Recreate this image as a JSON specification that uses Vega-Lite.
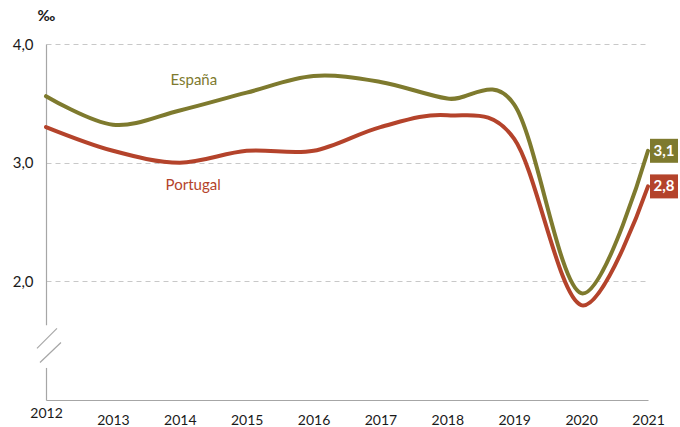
{
  "$schema": "https://vega.github.io/schema/vega-lite/v6.json",
  "width": 602,
  "height": 356,
  "autosize": "none",
  "padding": {"left": 46, "top": 44, "right": 32, "bottom": 27},
  "background": "white",
  "config": {
    "view": {"stroke": null},
    "font": "Lato",
    "locale": {"number": {"decimal": ",", "thousands": ".", "grouping": [3], "currency": ["", " €"]}}
  },
  "datasets": {
    "series": [
      {"year": 2012, "serie": "España", "value": 3.56},
      {"year": 2013, "serie": "España", "value": 3.32},
      {"year": 2014, "serie": "España", "value": 3.44},
      {"year": 2015, "serie": "España", "value": 3.59},
      {"year": 2016, "serie": "España", "value": 3.73},
      {"year": 2017, "serie": "España", "value": 3.68},
      {"year": 2018, "serie": "España", "value": 3.54},
      {"year": 2019, "serie": "España", "value": 3.49},
      {"year": 2020, "serie": "España", "value": 1.9},
      {"year": 2021, "serie": "España", "value": 3.1},
      {"year": 2012, "serie": "Portugal", "value": 3.3},
      {"year": 2013, "serie": "Portugal", "value": 3.1},
      {"year": 2014, "serie": "Portugal", "value": 3.0},
      {"year": 2015, "serie": "Portugal", "value": 3.1},
      {"year": 2016, "serie": "Portugal", "value": 3.1},
      {"year": 2017, "serie": "Portugal", "value": 3.3},
      {"year": 2018, "serie": "Portugal", "value": 3.4},
      {"year": 2019, "serie": "Portugal", "value": 3.2},
      {"year": 2020, "serie": "Portugal", "value": 1.8},
      {"year": 2021, "serie": "Portugal", "value": 2.8}
    ],
    "names": [
      {"serie": "España", "year": 2014.21, "value": 3.7},
      {"serie": "Portugal", "year": 2014.2, "value": 2.81}
    ],
    "gap": [
      {"year": 2012, "from": 1.27, "to": 1.63}
    ],
    "slashes": [
      {"x1": 2011.865, "x2": 2012.164, "y1": 1.435, "y2": 1.603},
      {"x1": 2011.91, "x2": 2012.224, "y1": 1.316, "y2": 1.485}
    ]
  },
  "layer": [
    {
      "data": {"name": "series"},
      "mark": {"type": "line", "interpolate": "cardinal", "strokeWidth": 4, "strokeCap": "round"},
      "encoding": {
        "x": {
          "field": "year", "type": "quantitative",
          "scale": {"domain": [2012, 2021], "nice": false, "zero": false},
          "axis": {
            "values": [2012, 2013, 2014, 2015, 2016, 2017, 2018, 2019, 2020, 2021],
            "format": "d", "title": null, "ticks": false, "grid": false,
            "domainColor": "#a6a6a6", "domainWidth": 1.2,
            "labelFontSize": 14, "labelColor": "#1a1a1a", "labelFlush": false,
            "labelBaseline": "top",
            "labelPadding": {"condition": {"test": "datum.value == 2012", "value": 6}, "value": 13}
          }
        },
        "y": {
          "field": "value", "type": "quantitative",
          "scale": {"domain": [1, 4], "nice": false, "zero": false},
          "axis": {
            "values": [2, 3, 4], "format": ".1f",
            "grid": true, "gridDash": [5, 4], "gridColor": "#c8c8c8", "gridWidth": 1,
            "ticks": false, "domainColor": "#a6a6a6", "domainWidth": 1.2,
            "labelFontSize": 15, "labelColor": "#1a1a1a", "labelPadding": 13,
            "title": "‰", "titleAngle": 0, "titleX": 0, "titleY": -29,
            "titleAlign": "center", "titleBaseline": "middle",
            "titleFontWeight": "bold", "titleFontSize": 15, "titleColor": "#1a1a1a"
          }
        },
        "color": {
          "field": "serie", "type": "nominal",
          "scale": {"domain": ["España", "Portugal"], "range": ["#7e7a2e", "#b4432b"]},
          "legend": null
        }
      }
    },
    {
      "data": {"name": "gap"},
      "mark": {"type": "rule", "color": "white", "strokeWidth": 4},
      "encoding": {
        "x": {"field": "year", "type": "quantitative"},
        "y": {"field": "from", "type": "quantitative"},
        "y2": {"field": "to"}
      }
    },
    {
      "data": {"name": "slashes"},
      "mark": {"type": "rule", "color": "#a6a6a6", "strokeWidth": 1.2},
      "encoding": {
        "x": {"field": "x1", "type": "quantitative"},
        "x2": {"field": "x2"},
        "y": {"field": "y1", "type": "quantitative"},
        "y2": {"field": "y2"}
      }
    },
    {
      "data": {"name": "names"},
      "mark": {"type": "text", "fontSize": 15, "align": "center", "baseline": "middle"},
      "encoding": {
        "x": {"field": "year", "type": "quantitative"},
        "y": {"field": "value", "type": "quantitative"},
        "text": {"field": "serie"},
        "color": {"field": "serie", "type": "nominal", "legend": null}
      }
    },
    {
      "data": {"name": "series"},
      "transform": [{"filter": "datum.year == 2021"}],
      "mark": {
        "type": "point", "filled": true, "opacity": 1, "size": 784, "xOffset": 16,
        "shape": "M-1,-0.857L1,-0.857L1,0.857L-1,0.857Z", "strokeWidth": 0
      },
      "encoding": {
        "x": {"field": "year", "type": "quantitative"},
        "y": {"field": "value", "type": "quantitative"},
        "color": {"field": "serie", "type": "nominal", "legend": null}
      }
    },
    {
      "data": {"name": "series"},
      "transform": [{"filter": "datum.year == 2021"}],
      "mark": {"type": "text", "dx": 16, "align": "center", "baseline": "middle", "fontSize": 15, "fontWeight": "bold", "color": "white"},
      "encoding": {
        "x": {"field": "year", "type": "quantitative"},
        "y": {"field": "value", "type": "quantitative"},
        "text": {"field": "value", "type": "quantitative", "format": ".1f"}
      }
    }
  ]
}
